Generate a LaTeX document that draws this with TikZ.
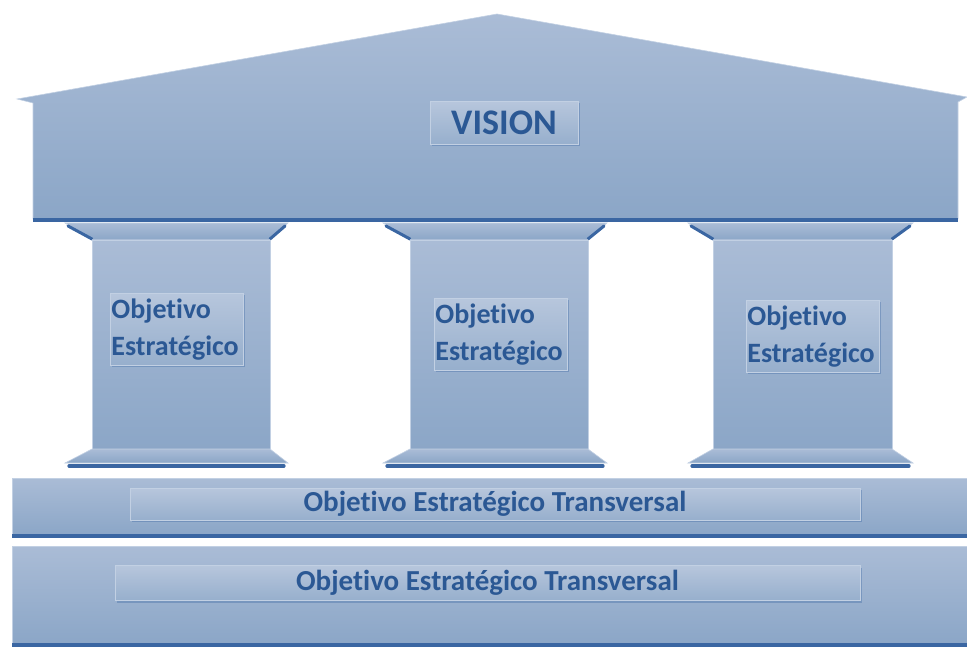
\documentclass[tikz,border=0pt]{standalone}
\usepackage{fontspec}
\setmainfont{Carlito}[Ligatures={NoCommon}]
\usetikzlibrary{shadows}
\definecolor{topc}{HTML}{AABCD6}
\definecolor{botc}{HTML}{8BA6C7}
\definecolor{darkc}{HTML}{3A66A2}
\definecolor{txtc}{HTML}{2B5894}
\definecolor{boxl}{HTML}{C2D0E3}
\begin{document}
\begin{tikzpicture}[x=1pt,y=-1pt,
  part/.style={top color=topc,bottom color=botc,draw=boxl,line width=0.6pt},
  darkedge/.style={draw=darkc,line width=3.2pt,line cap=round},
  labelbox/.style={draw=boxl,line width=0.8pt,top color=topc!85!white,bottom color=botc!90!white,
     drop shadow={shadow xshift=1.5pt,shadow yshift=-2pt,opacity=0.35,fill=darkc},
     inner sep=2pt,text=txtc},
  pillartext/.style={labelbox,font=\fontsize{28}{37}\selectfont\bfseries,align=left,anchor=north west,
     text width=131pt,minimum height=72pt,inner sep=1pt},
  bandtext/.style={labelbox,font=\fontsize{29}{34}\selectfont\bfseries}
]
\useasboundingbox (0,0) rectangle (967,647);

% roof
\path[part] (17,99) -- (497,14) -- (967,97) -- (958,102) -- (958,219) -- (33,219) -- (33,103) -- cycle;
\node[inner sep=0,minimum width=925pt,minimum height=1pt] (roof) at (495.5,160) {};
\draw[darkedge,line cap=butt] (33,220) -- (958,220);
\node[labelbox,font=\fontsize{36}{40}\selectfont\bfseries,minimum width=148pt,minimum height=43pt] (vision) at (504,123) {VISION};

% columns
\foreach \a/\b/\c/\d/\n in {65/92/270/288/1, 383/410/588/607/2, 688/713/892/913/3}{
  \path[part] (\a,223) -- (\d,223) -- (\c,240) -- (\b,240) -- cycle;
  \draw[darkc,line width=3pt,line cap=round] (\a+3,226) -- (\b,239);
  \draw[darkc,line width=3pt,line cap=round] (\d-3,226) -- (\c,239);
  \path[part] (\b,240) rectangle (\c,450);
  \node[inner sep=0,minimum width=1pt] (col\n) at ({(\b+\c)/2},345) {};
  \path[part] (\b,449) -- (\c,449) -- (\d,463) -- (\a,463) -- cycle;
  \draw[darkedge] (\a+4,466) -- (\d-4,466);
}

\node[pillartext] (obj1) at (110,293) {Objetivo\\Estratégico};
\node[pillartext] (obj2) at (434,298) {Objetivo\\Estratégico};
\node[pillartext] (obj3) at (746,300) {Objetivo\\Estratégico};

% bands
\path[part] (12,478) rectangle (967,535);
\node[inner sep=0] (band1) at (489.5,506) {};
\draw[darkedge,line cap=butt] (12,536) -- (967,536);
\node[bandtext,minimum width=730pt,minimum height=32pt] (t1) at (495,504) {Objetivo Estratégico Transversal};

\path[part] (12,546) rectangle (967,644);
\node[inner sep=0] (band2) at (489.5,595) {};
\draw[darkedge,line cap=butt] (12,645) -- (967,645);
\node[bandtext,minimum width=745pt,minimum height=35pt] (t2) at (487.5,583) {Objetivo Estratégico Transversal};
\end{tikzpicture}
\end{document}
